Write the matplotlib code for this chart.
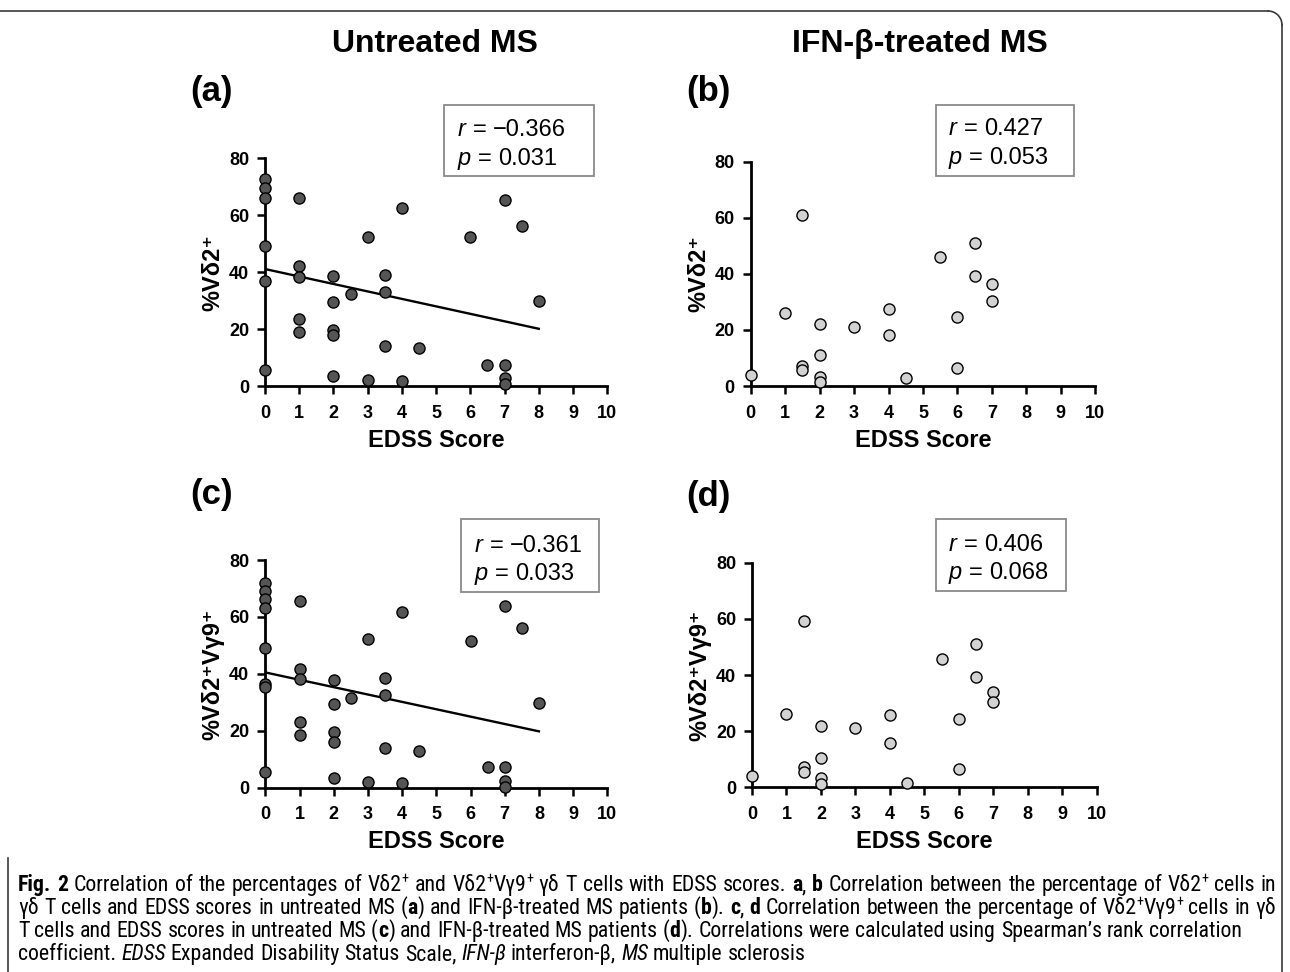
import re
import numpy as np
import matplotlib
matplotlib.use('Agg')
import matplotlib.pyplot as plt
from matplotlib.font_manager import FontProperties, findfont
from matplotlib.patches import Rectangle
from matplotlib.lines import Line2D

# ---- 数据 ----
edss_untreated = [0, 0, 0, 0, 0, 0, 1, 1, 1, 1, 1, 2, 2, 2, 2, 2, 2.5, 3, 3,
                  3.5, 3.5, 3.5, 4, 4, 4.5, 6, 6.5, 7, 7, 7, 7, 7.5, 8]
vd2_untreated = [72.6, 69.4, 66.1, 49.3, 36.9, 5.6, 66.2, 42.2, 38.3, 23.5, 18.9,
                 38.5, 29.5, 19.8, 17.9, 3.6, 32.3, 52.5, 2.2, 39.0, 32.9, 14.2,
                 62.5, 1.6, 13.5, 52.5, 7.4, 65.3, 7.3, 2.8, 0.6, 56.3, 30.0]

edss_untreated_c = [0, 0, 0, 0, 0, 0, 0, 0, 1, 1, 1, 1, 1, 2, 2, 2, 2, 2, 2.5, 3, 3,
                    3.5, 3.5, 3.5, 4, 4, 4.5, 6, 6.5, 7, 7, 7, 7, 7.5, 8]
vd2vg9_untreated = [71.8, 69.2, 66.3, 63.0, 49.2, 36.3, 35.5, 5.6, 65.7, 41.8, 38.2,
                    23.2, 18.5, 37.7, 29.3, 19.4, 16.2, 3.4, 31.6, 52.3, 2.1, 38.6,
                    32.6, 13.8, 61.8, 1.5, 12.9, 51.5, 7.4, 63.9, 7.1, 2.3, 0.2, 56.0, 29.7]

edss_treated = [0, 1, 1.5, 1.5, 1.5, 2, 2, 2, 2, 3, 4, 4, 4.5, 5.5, 6, 6, 6.5, 6.5, 7, 7]
vd2_treated = [4.0, 26.2, 61.0, 7.1, 5.7, 22.0, 11.1, 3.2, 1.3, 21.2, 27.3, 18.2,
               3.0, 46.1, 24.7, 6.5, 51.1, 39.3, 36.4, 30.3]
vd2vg9_treated = [3.9, 26.1, 59.1, 7.1, 5.5, 21.8, 10.6, 3.2, 1.3, 21.0, 25.9, 15.9,
                  1.5, 45.8, 24.2, 6.6, 50.9, 39.3, 33.8, 30.4]

# 回归线端点
fit_x = [0, 8]
fit_a = [41.1, 20.1]
fit_c = [40.5, 19.8]

r_values = ['\u22120.366', '0.427', '\u22120.361', '0.406']
p_values = ['0.031', '0.053', '0.033', '0.068']
panel_tags = ['(a)', '(b)', '(c)', '(d)']
col_titles = ['Untreated MS', 'IFN-\u03b2-treated MS']
y_labels = ['%V\u03b42\u207a', '%V\u03b42\u207a', '%V\u03b42\u207aV\u03b39\u207a', '%V\u03b42\u207aV\u03b39\u207a']
x_ticks = list(range(0, 11))
y_ticks = [0, 20, 40, 60, 80]

# ================= 画布 =================
W, H = 1290, 972
fig = plt.figure(figsize=(W / 100, H / 100), dpi=100)
CHART_FAM = ['Liberation Sans', 'DejaVu Sans']


def pick_font(cands):
    for c in cands:
        try:
            findfont(FontProperties(family=c), fallback_to_default=False)
            return c
        except Exception:
            continue
    return 'DejaVu Sans'


CAP_FONT = pick_font(['Liberation Sans Narrow', 'Roboto Condensed', 'Open Sans Condensed', 'Noto Sans'])
renderer = fig.canvas.get_renderer()


def fx(x):
    return x / W


def fy(y):
    return 1 - y / H


def make_fp(kind, size, fam):
    weight = 'bold' if kind in ('b',) else 'normal'
    style = 'italic' if kind == 'i' else 'normal'
    if kind == 'sup':
        size = size * 0.65
    return FontProperties(family=fam, size=size, weight=weight, style=style)


def adv(s, fp):
    w1 = renderer.get_text_width_height_descent('|' + s + '|', fp, ismath=False)[0]
    w0 = renderer.get_text_width_height_descent('||', fp, ismath=False)[0]
    return w1 - w0


def draw_runs(x, y, runs, size, fam, justify=None, color='black'):
    """按片段逐个画文字（粗体/斜体/上标），y为基线像素位置（自上而下）"""
    pieces = []
    for txt, kind in runs:
        for part in re.split('( )', txt):
            if part:
                pieces.append((part, kind))
    widths = [adv(p, make_fp(k, size, fam)) for p, k in pieces]
    extra = 0
    if justify is not None:
        nsp = sum(1 for p, _ in pieces if p == ' ')
        extra = (justify - sum(widths)) / max(nsp, 1)
    cx = x
    for (p, k), w in zip(pieces, widths):
        if p == ' ':
            cx += w + extra
            continue
        dy = -0.36 * size * 100 / 72 if k == 'sup' else 0
        fig.text(fx(cx), fy(y + dy), p, fontproperties=make_fp(k, size, fam),
                 ha='left', va='baseline', color=color)
        cx += w
    return cx


# ---- 外框 ----
frame_kw = dict(color='#3a3a3a', lw=1.2, transform=fig.transFigure)
fig.add_artist(Line2D([fx(0), fx(1268)], [fy(11), fy(11)], **frame_kw))
fig.add_artist(Line2D([fx(1282), fx(1282)], [fy(25), fy(972)], **frame_kw))
th = np.linspace(0, np.pi / 2, 20)
fig.add_artist(Line2D(fx(1268 + 14 * np.sin(th)), fy(25 - 14 * np.cos(th)), **frame_kw))
fig.add_artist(Line2D([fx(8), fx(8)], [fy(858), fy(972)], **frame_kw))

# ---- 列标题 ----
for title, cx in zip(col_titles, [435, 920]):
    fig.text(fx(cx), fy(52), title, family=CHART_FAM, fontsize=23, weight='bold',
             ha='center', va='baseline')

# ---- 四个子图 ----
axes_px = [(265, 607.3, 158.3, 386), (750.7, 1095.3, 161.7, 386),
           (265.3, 607.3, 560, 787.7), (752, 1096.7, 562.7, 787.3)]
xs_list = [edss_untreated, edss_treated, edss_untreated_c, edss_treated]
ys_list = [vd2_untreated, vd2_treated, vd2vg9_untreated, vd2vg9_treated]
face_list = ['#555555', '#d2d2d2', '#555555', '#d2d2d2']
fits = [fit_a, None, fit_c, None]
tag_pos = [(190, 101), (686, 101), (190, 504), (686, 506)]
box_px = [(444, 594, 105, 176), (936, 1074, 105, 176), (461, 599, 519, 592), (936, 1066, 519, 591)]
txt_px = [(458, 136, 165), (949, 135, 164), (475, 552, 580), (949, 551, 579)]

for i in range(4):
    x0, x10, y80, y0 = axes_px[i]
    ax = fig.add_axes([fx(x0), fy(y0), fx(x10 - x0), (y0 - y80) / H])
    ax.scatter(xs_list[i], ys_list[i], s=64, c=face_list[i], edgecolors='black',
               linewidths=1.0, zorder=5, clip_on=False)
    if fits[i] is not None:
        ax.plot(fit_x, fits[i], color='black', lw=1.7, zorder=4)
    ax.set_xlim(0, 10)
    ax.set_ylim(0, 80)
    ax.set_xticks(x_ticks)
    ax.set_yticks(y_ticks)
    for sp in ['top', 'right']:
        ax.spines[sp].set_visible(False)
    for sp in ['left', 'bottom']:
        ax.spines[sp].set_linewidth(2.0)
    ax.tick_params(direction='out', length=5.5, width=1.8, labelsize=13)
    ax.tick_params(axis='x', pad=8)
    ax.tick_params(axis='y', pad=6)
    for lab in ax.get_xticklabels() + ax.get_yticklabels():
        lab.set_fontweight('bold')
        lab.set_family(CHART_FAM)
    ax.set_xlabel('EDSS Score', fontsize=17, weight='bold', family=CHART_FAM, va='center')
    ax.xaxis.set_label_coords(0.5, -54 / (y0 - y80))
    ax.set_ylabel(y_labels[i], fontsize=17, weight='bold', family=CHART_FAM, va='center')
    ax.yaxis.set_label_coords(-52 / (x10 - x0), 0.5)
    ax.patch.set_alpha(0)

    # 子图编号
    fig.text(fx(tag_pos[i][0]), fy(tag_pos[i][1]), panel_tags[i], family=CHART_FAM,
             fontsize=25, weight='bold', ha='left', va='baseline')

    # 统计框
    bx0, bx1, by0, by1 = box_px[i]
    fig.add_artist(Rectangle((fx(bx0), fy(by1)), fx(bx1 - bx0), (by1 - by0) / H,
                             transform=fig.transFigure, fill=False,
                             edgecolor='#8a8a8a', lw=1.3))
    tx, l1, l2 = txt_px[i]
    draw_runs(tx, l1, [('r', 'i'), (' = ' + r_values[i], 'n')], 17, CHART_FAM)
    draw_runs(tx, l2, [('p', 'i'), (' = ' + p_values[i], 'n')], 17, CHART_FAM)

# ---- 图注 ----
cap_lines = [
    [('Fig. 2', 'b'), (' Correlation of the percentages of V\u03b42', 'n'), ('+', 'sup'),
     (' and V\u03b42', 'n'), ('+', 'sup'), ('V\u03b39', 'n'), ('+', 'sup'),
     (' \u03b3\u03b4 T cells with EDSS scores. ', 'n'), ('a', 'b'), (', ', 'n'), ('b', 'b'),
     (' Correlation between the percentage of V\u03b42', 'n'), ('+', 'sup'), (' cells in', 'n')],
    [('\u03b3\u03b4 T cells and EDSS scores in untreated MS (', 'n'), ('a', 'b'),
     (') and IFN-\u03b2-treated MS patients (', 'n'), ('b', 'b'), ('). ', 'n'), ('c', 'b'),
     (', ', 'n'), ('d', 'b'), (' Correlation between the percentage of V\u03b42', 'n'),
     ('+', 'sup'), ('V\u03b39', 'n'), ('+', 'sup'), (' cells in \u03b3\u03b4', 'n')],
    [('T cells and EDSS scores in untreated MS (', 'n'), ('c', 'b'),
     (') and IFN-\u03b2-treated MS patients (', 'n'), ('d', 'b'),
     ('). Correlations were calculated using Spearman\u2019s rank correlation', 'n')],
    [('coefficient. ', 'n'), ('EDSS', 'i'), (' Expanded Disability Status Scale, ', 'n'),
     ('IFN-\u03b2', 'i'), (' interferon-\u03b2, ', 'n'), ('MS', 'i'), (' multiple sclerosis', 'n')],
]
cap_fam = [CAP_FONT, 'DejaVu Sans']

# 以第一行宽度确定字号
base = 12
nat = sum(adv(t, make_fp(k, base, cap_fam)) for t, k in cap_lines[0])
cap_size = base * 1258 / nat * 0.985
cap_base = [891, 914, 937, 960]
for j, runs in enumerate(cap_lines):
    draw_runs(18, cap_base[j], runs, cap_size, cap_fam, justify=1258 if j < 2 else None)

fig.savefig('out.png', dpi=100, facecolor='white')
